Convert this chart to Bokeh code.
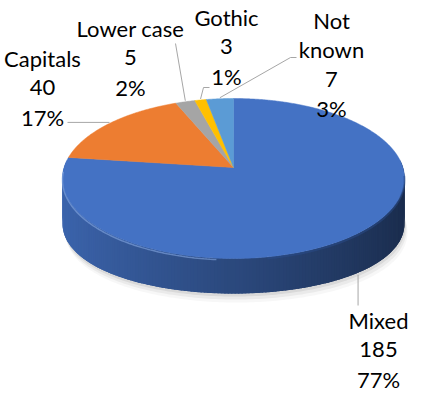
import numpy as np
from bokeh.plotting import figure
from bokeh.models import Range1d
from bokeh.core.properties import value
from bokeh.embed import file_html
from bokeh.resources import INLINE

# ---- data ----
categories = ["Mixed", "Capitals", "Lower case", "Gothic", "Not known"]
counts = [185, 40, 5, 3, 7]
slice_colors = ["#4472C4", "#ED7D31", "#A5A5A5", "#FFC000", "#5B9BD5"]

total = sum(counts)
percents = [f"{round(100 * c / total)}%" for c in counts]

# ---- layout ----
W, H = 424, 397
CX, CY = 233.0, 167.0
RX, RY, PERSP = 169.4, 78.5, 0.1375
label_pos = [(378, 320), (42, 58), (130, 28), (226, 17), (331, 20)]
label_wrap = [False, False, False, False, True]
LINE_STEP = 29.3
leader_knees = [[(None, 305)], [(67, None)], [(175, 43)],
                [(203, 87), (209, 87)], [(290, 57), (296, 57)]]


def rim(theta, depth=0.0):
    t = np.radians(theta)
    u, v = np.sin(t), np.cos(t)
    s = 1.0 / (1.0 + PERSP * v)
    return CX + RX * u * s, CY - RY * v * s + depth


def side_h(theta):
    return 35.0 + 10.0 * np.sin(np.radians(theta)) ** 2


def shade(hexc, f):
    r, g, b = (int(hexc[i:i + 2], 16) for i in (1, 3, 5))
    return "#%02x%02x%02x" % tuple(max(0, min(255, int(c * f))) for c in (r, g, b))


# slice angles (Excel: from 12 o'clock, clockwise)
bounds = np.concatenate([[0.0], np.cumsum(counts) / total * 360.0])
starts, ends = bounds[:-1], bounds[1:]
mids = (starts + ends) / 2


def slice_of(theta):
    theta = theta % 360.0
    for i in range(len(counts)):
        if starts[i] <= theta < ends[i]:
            return i
    return len(counts) - 1


p = figure(width=W, height=H, output_backend="svg", toolbar_location=None,
           x_range=Range1d(0, W), y_range=Range1d(H, 0), min_border=0)
p.axis.visible = False
p.grid.visible = False
p.outline_line_color = None
p.background_fill_color = "white"
p.border_fill_color = "white"

# soft shadow under the pie
full = np.linspace(0, 360, 361)
bx, by = rim(full, side_h(full))
for dx, dy, a in [(1, 3, 0.07), (2, 6, 0.05), (3, 9, 0.03)]:
    p.patch(bx + dx, by + dy, fill_color="#000000", fill_alpha=a, line_color=None)

# side walls (front half), with horizontal shading; strips overlap to hide seams
thetas = np.arange(85.0, 276.0, 1.0)
order = []
for k in range(len(thetas) - 1):
    t0, t1 = thetas[k], thetas[k + 1]
    tm = (t0 + t1) / 2
    order.append((np.cos(np.radians(tm)), t0, t1, tm))
order.sort(key=lambda o: -o[0])
sx, sy, sc = [], [], []
for _, t0, t1, tm in order:
    a0, a1 = t0 - 0.7, t1 + 0.7
    x0, y0 = rim(a0)
    x1, y1 = rim(a1)
    x0b, y0b = rim(a0, side_h(a0))
    x1b, y1b = rim(a1, side_h(a1))
    sx.append([x0, x1, x1b, x0b])
    sy.append([y0, y1, y1b, y0b])
    u = np.sin(np.radians(tm))
    sc.append(shade(slice_colors[slice_of(tm)], 0.64 - 0.25 * u))
p.patches(sx, sy, fill_color=sc, line_color=None)

# top face slices
tx, ty = [], []
for i in range(len(counts)):
    arc = np.linspace(starts[i], ends[i], max(3, int((ends[i] - starts[i]) * 2)))
    ax, ay = rim(arc)
    tx.append(np.concatenate([[CX], ax]))
    ty.append(np.concatenate([[CY], ay]))
p.patches(tx, ty, fill_color=slice_colors, line_color=slice_colors, line_width=0.5)

# bevel highlights on the front edge
hx, hy = rim(np.linspace(185, 268, 90), 1.5)
p.line(hx, hy, line_color="#86a8e2", line_alpha=0.6, line_width=1.5)
dx_, dy_ = rim(np.linspace(95, 170, 80), 1.5)
p.line(dx_, dy_, line_color="#2a4c8a", line_alpha=0.5, line_width=2)

# leader lines
for i in range(len(counts)):
    if i == 0:
        px, py = rim(mids[i], side_h(mids[i]) + 2)
    else:
        px, py = rim(mids[i], -1)
    xs, ys = [px], [py]
    for kx, ky in leader_knees[i]:
        xs.append(px if kx is None else kx)
        ys.append(py if ky is None else ky)
    p.line(xs, ys, line_color="#A6A6A6", line_width=1)

# labels
lx, ly, lt = [], [], []
for i in range(len(counts)):
    name_lines = categories[i].split(" ") if label_wrap[i] else [categories[i]]
    lines = name_lines + [str(counts[i]), percents[i]]
    x0, y0 = label_pos[i]
    for j, s in enumerate(lines):
        lx.append(x0)
        ly.append(y0 + j * LINE_STEP)
        lt.append(s)
p.text(lx, ly, text=lt, text_font=value("Lato"), text_font_size="22px",
       text_color="#000000", text_align="center", text_baseline="middle")

open("out.html", "w").write(file_html(p, INLINE))
